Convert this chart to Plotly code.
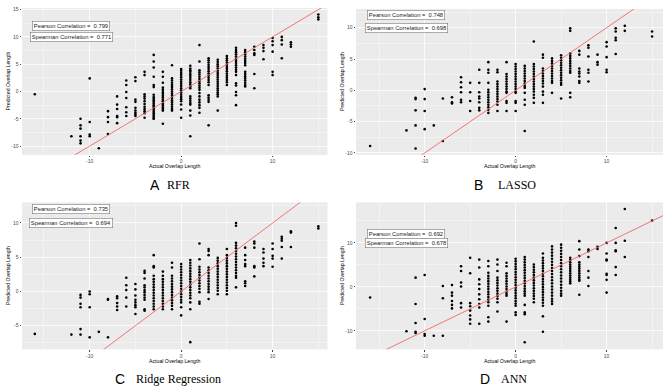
import plotly.graph_objects as go

# ---------------- data (actual overlap length -> predicted values) ----------------
rfr_points = {
    -16: [-0.5],
    -12: [-8.2],
    -11: [-5.0, -6.2, -6.8, -8.2, -9.0, -9.5],
    -10: [2.4, -5.6, -7.9, -8.2],
    -9: [-10.4],
    -8: [-3.6, -4.7, -5.6, -7.8],
    -7: [-0.9, -2.4, -3.2, -4.5, -4.7, -5.8],
    -6: [2.0, 1.2, -0.1, -1.2, -2.9, -3.8, -4.5],
    -5: [2.6, 1.9, -1.5, -1.9, -3.0, -3.5, -3.9, -4.2, -4.5],
    -4: [3.6, 3.0, -0.5, -0.9, -1.3, -1.8, -2.3, -2.8, -3.2, -3.6, -4.0, -4.8],
    -3: [6.7, 5.5, 4.4, 2.7, 1.2, 0.8, -0.6, -1.0, -1.3, -1.6, -1.9, -2.2, -2.5, -2.8,
         -3.1, -3.4, -3.7, -4.0, -4.3, -4.6, -4.9, -5.0],
    -2: [3.6, 2.7, 1.6, 0.7, 0.3, -0.1, -0.4, -0.8, -1.1, -1.5, -1.8, -2.2, -2.5, -2.9,
         -3.2, -3.5, -5.9],
    -1: [4.8, 2.4, 2.0, 1.6, 1.2, 0.8, 0.4, 0.0, -0.4, -0.8, -1.2, -1.6, -2.0, -2.4,
         -2.8, -3.2, -3.5],
    0: [4.1, 3.8, 3.4, 3.0, 2.6, 2.2, 1.8, 1.4, 1.0, 0.6, 0.2, -0.2, -0.6, -1.0, -1.4,
        -1.8, -2.4, -3.3, -4.8],
    1: [4.7, 4.2, 3.9, 3.6, 3.2, 2.9, 2.5, 2.1, 1.7, 1.3, 0.9, 0.6, -0.9, -1.3, -1.7,
        -2.1, -2.4, -3.5, -4.4, -8.2],
    2: [8.5, 5.5, 3.9, 3.5, 3.1, 2.7, 2.3, 1.9, 1.5, 1.1, 0.7, 0.3, -0.3, -0.9, -1.5,
        -2.0, -2.5, -3.0, -3.9],
    3: [6.1, 5.7, 5.3, 4.9, 4.5, 4.1, 3.7, 3.3, 2.9, 2.5, 2.1, 1.7, 1.2, -0.7, -1.1,
        -1.5, -1.9, -6.2],
    4: [5.8, 5.4, 5.0, 4.6, 4.2, 3.8, 3.4, 3.0, 2.6, 2.2, 1.8, 1.4, 1.0, 0.6, 0.2,
        -0.2, -0.5, -0.9, -3.5],
    5: [6.5, 6.1, 5.7, 5.3, 4.9, 4.5, 4.1, 3.7, 3.3, 2.9, 2.5, 2.1, 1.7, 1.2],
    6: [8.0, 7.6, 7.2, 6.8, 6.4, 6.0, 5.6, 5.2, 4.8, 4.4, 4.0, 3.6, 3.0, 1.5, 1.1,
        -0.1, -0.7, -2.5],
    7: [7.6, 7.2, 6.8, 6.4, 6.0, 5.6, 5.2, 4.8, 3.6, 3.2, 2.8, 2.4, 2.0, 1.6, 1.2, 0.9],
    8: [8.2, 7.6, 7.0, 6.7, 3.2, 0.6],
    9: [8.5, 8.0, 7.4, 5.9],
    10: [9.8, 9.2, 8.5, 7.3, 3.6, 3.0],
    11: [10.0, 9.4, 8.6, 6.1],
    12: [9.0, 8.6, 8.2],
    15: [14.1, 13.6, 13.2],
}

lasso_points = {
    -16: [-8.9],
    -12: [-6.4],
    -11: [-1.2, -1.4, -3.2, -5.6, -9.3],
    -10: [0.2, -1.4, -3.3, -6.2],
    -9: [-5.6],
    -8: [-1.3, -8.1],
    -7: [-1.1, -1.9, -2.1],
    -6: [2.1, 1.3, 0.5, -0.3, -1.5, -1.9],
    -5: [1.2, -0.3, -1.7, -3.3],
    -4: [3.3, 1.2, -0.3, -1.0, -1.3, -1.9, -2.8, -3.2],
    -3: [4.5, 3.3, 2.8, 1.2, 0.1, -0.3, -0.7, -1.1, -1.5, -1.9, -2.3, -2.7, -3.1, -3.6],
    -2: [3.3, 2.9, 1.4, 1.0, 0.6, 0.2, -0.2, -0.6, -1.0, -1.4, -1.8, -2.3, -3.3],
    -1: [4.5, 2.6, 2.2, 1.8, 1.4, 1.0, 0.6, 0.2, -0.2, -0.4, -1.7, -2.0, -3.3],
    0: [4.2, 3.8, 3.4, 3.0, 2.6, 2.2, 1.8, 1.4, 1.0, 0.6, 0.2, -0.2, -0.4, -1.7, -2.0, -3.3],
    1: [3.9, 3.5, 3.1, 2.7, 2.3, 1.9, 1.5, 1.1, 0.7, 0.4, -0.4, -1.5, -2.3, -6.5],
    2: [7.8, 4.2, 3.8, 3.4, 3.0, 2.6, 2.2, 1.8, 1.4, 1.0, 0.6, 0.2, -0.2, -0.7, -1.2, -2.0],
    3: [5.7, 5.2, 3.5, 3.1, 2.7, 2.3, 1.9, 1.5, 1.1, 0.6, -0.2, -0.7, -2.0],
    4: [5.1, 4.7, 4.3, 3.9, 3.5, 3.1, 2.7, 2.3, 1.9, 1.5, 1.2, -0.4],
    5: [5.6, 5.2, 4.8, 4.4, 4.0, 3.6, 3.2, 2.8, 2.4, 2.0, 1.6, 1.2, 0.9, -1.3],
    6: [9.9, 9.5, 5.9, 5.5, 5.1, 4.7, 4.3, 3.9, 3.5, 3.1, 2.8, -0.4, -1.1],
    7: [6.3, 5.7, 3.5, 3.0, 2.7, 2.2, 1.5, 1.2],
    8: [7.2, 6.8, 5.4, 3.3, 2.8, 1.4],
    9: [5.7, 4.5, 4.1],
    10: [7.7, 7.0, 5.3, 3.3, 2.9],
    11: [9.9, 9.4, 8.4, 8.0, 5.8],
    12: [10.3, 9.5],
    15: [9.4, 8.6],
}

ridge_points = {
    -16: [-6.2],
    -12: [-6.3],
    -11: [-0.5, -0.9, -1.8, -2.3, -5.5, -6.3],
    -10: [0.0, -0.4, -2.3, -6.7],
    -9: [-5.9],
    -8: [-1.1, -1.2, -6.7],
    -7: [-0.7, -1.0, -1.7, -2.2, -2.7],
    -6: [2.0, 0.9, 0.2, -0.9, -2.2],
    -5: [1.1, 0.3, -0.6, -1.2, -1.6, -2.0, -2.3, -3.3],
    -4: [3.0, 2.7, 1.9, 0.9, 0.6, 0.2, -0.1, -0.5, -0.9, -1.2, -2.6, -2.8],
    -3: [5.3, 3.7, 3.5, 2.3, 1.8, 1.4, 1.0, 0.6, 0.2, -0.2, -0.6, -1.0, -1.4, -1.8,
         -2.2, -2.6],
    -2: [2.9, 2.3, 1.8, 1.4, 1.0, 0.6, 0.2, -0.2, -0.6, -1.0, -1.4, -1.8, -2.2, -2.6],
    -1: [4.2, 3.5, 2.3, 1.9, 1.5, 1.1, 0.7, 0.3, -0.1, -0.5, -0.9, -1.3, -1.7, -2.1, -2.6],
    0: [4.0, 3.6, 3.2, 2.8, 2.4, 2.0, 1.6, 1.2, 0.8, 0.4, 0.0, -0.4, -0.8, -1.2, -1.6,
        -2.3, -3.5],
    1: [4.6, 4.2, 3.8, 3.4, 3.0, 2.6, 2.2, 1.8, 1.4, 1.0, 0.6, 0.2, -0.2, -0.6, -1.0,
        -1.6, -2.6, -7.4],
    2: [7.0, 4.7, 3.6, 3.2, 2.8, 2.4, 2.0, 1.6, 1.2, 0.8, 0.4, -0.1, -1.5, -1.8],
    3: [6.2, 5.9, 5.3, 3.5, 3.1, 2.7, 2.3, 1.9, 1.5, 1.1, 0.7, 0.3, -0.1, -1.1],
    4: [4.9, 4.5, 4.1, 3.7, 3.3, 2.9, 2.5, 2.1, 1.7, 1.3, 0.9, 0.5, 0.1, -0.4],
    5: [6.2, 5.3, 4.9, 4.5, 4.1, 3.7, 3.3, 2.9, 2.5, 2.1, 1.7, 1.3, 0.9, 0.5, 0.1, -0.4],
    6: [10.0, 9.6, 7.1, 6.7, 6.3, 5.9, 5.5, 5.1, 4.7, 4.3, 3.9, 3.5, 3.1, 2.7, 2.3,
        2.0, 0.6],
    7: [6.4, 5.3, 4.6, 4.0, 3.7, 1.5, 1.2, 0.8],
    8: [7.3, 7.0, 6.4, 3.7, 3.5, 2.2],
    9: [6.2, 5.7, 4.8, 4.2, 3.7],
    10: [7.0, 6.2, 5.2, 4.8, 3.6],
    11: [8.0, 7.7, 7.4, 6.5, 4.8],
    12: [8.8, 8.6, 6.5],
    15: [9.5, 9.2],
}

ann_points = {
    -16: [-2.4],
    -12: [-10.1],
    -11: [2.1, -3.9, -8.2, -10.2, -10.5],
    -10: [2.7, -7.3, -10.7, -11.1],
    -9: [-11.1],
    -8: [0.2, -2.6, -11.1],
    -7: [0.4, -1.3, -2.0, -3.2, -4.1, -4.9],
    -6: [4.7, 3.6, 1.0, 0.1, -3.7, -4.7],
    -5: [6.6, 3.1, -3.7, -4.4, -5.4, -6.5, -7.4, -8.4],
    -4: [6.2, 4.4, 1.7, 0.6, -0.5, -1.7, -2.8, -3.9, -4.7, -8.4],
    -3: [5.9, 4.7, 3.2, 2.5, 1.9, 1.3, 0.7, 0.1, -0.5, -1.1, -1.7, -2.3, -2.9, -3.5,
         -4.3, -6.9, -7.9],
    -2: [6.2, 5.1, 3.6, 2.1, 1.5, 0.9, 0.3, -0.3, -0.9, -1.5, -2.1, -2.7, -3.5, -5.6],
    -1: [5.5, 4.7, 3.1, 2.5, 1.9, 1.3, 0.7, 0.1, -0.5, -1.1, -1.6, -2.0, -7.9],
    0: [6.4, 5.8, 5.2, 4.6, 4.0, 3.4, 2.8, 2.2, 1.6, 1.0, 0.4, -0.2, -0.8, -1.4, -2.0,
        -2.6, -3.2, -3.8, -4.3, -5.8, -6.4],
    1: [6.8, 6.2, 5.6, 5.0, 4.4, 3.8, 3.2, 2.6, 2.0, 1.4, 0.8, 0.2, -0.4, -1.0, -1.5,
        -2.0, -4.1, -5.8, -6.2, -12.6],
    2: [5.1, 4.5, 3.9, 3.3, 2.7, 2.1, 1.5, 0.9, 0.3, -0.3, -0.9, -1.5, -2.1, -2.7, -3.5],
    3: [7.6, 6.6, 6.0, 5.4, 4.8, 4.2, 3.6, 3.0, 2.4, 1.8, 1.2, 0.6, 0.0, -0.6, -1.2,
        -1.8, -2.4, -3.0, -3.6, -4.3, -6.7, -10.2],
    4: [9.2, 8.5, 7.8, 7.1, 6.4, 5.7, 5.0, 4.3, 3.6, 2.9, 2.2, 1.5, 0.8, 0.1, -0.6,
        -1.3, -2.0, -2.7, -3.3, -3.9],
    5: [9.6, 8.9, 8.2, 7.5, 6.8, 6.1, 5.4, 4.7, 4.0, 3.3, 2.6, 1.9, 1.2, 0.5, -0.2,
        -0.9, -1.5, -2.0],
    6: [6.6, 6.1, 5.6, 5.1, 4.6, 4.1, 3.6, 3.1, 2.6, 2.1, 1.6, 1.2, 0.8],
    7: [10.4, 8.5, 7.0, 5.6, 5.1, 4.6, 4.1, 3.6, 3.1, 2.6, 2.1, 1.6, 1.4, -1.8],
    8: [8.5, 8.1, 6.8, 3.6, 2.1, 0.2],
    9: [9.1, 8.6],
    10: [10.0, 7.6, 6.2, 6.0, 3.0, 2.7, 1.6, -1.3],
    11: [13.4, 10.0, 8.3, 8.1, 4.5, 2.7],
    12: [17.7, 10.5, 6.8],
    15: [15.1],
}

model_names = ["RFR", "LASSO", "Ridge Regression", "ANN"]
panel_letters = ["A", "B", "C", "D"]
pearson = ["0.799", "0.748", "0.735", "0.692"]
spearman = ["0.771", "0.698", "0.694", "0.678"]
all_points = [rfr_points, lasso_points, ridge_points, ann_points]

x_ticks = [-10, 0, 10]
x_tick_text = ["-10", "0", "10"]
y_ticks_5 = [-10, -5, 0, 5, 10, 15]
y_tick_text_5 = ["-10", "-5", "0", "5", "10", "15"]
y_ticks_10 = [-10, 0, 10]
y_tick_text_10 = ["-10", "0", "10"]

# ---------------- layout geometry (pixels in a 663x392 canvas) ----------------
W, H = 663, 392
boxes = [  # x0, x1, y0(top), y1(bottom)
    (22, 327.5, 6, 154),
    (356, 663, 7, 154),
    (22, 327.5, 202, 350),
    (356, 663, 202, 350),
]
x_ranges = [(-17.4, 16.0), (-17.55, 16.2), (-17.4, 16.0), (-17.55, 16.2)]
y_ranges = [(-11.6, 15.3), (-10.3, 13.0), (-8.45, 13.0), (-14.2, 19.2)]
y_steps = [5, 5, 5, 10]
letter_right_px = [162, 485, 127, 492]
name_left_px = [164.5, 495.5, 133.5, 498.5]
caption_y_px = [184, 184, 380, 380]

FONT = "Liberation Sans, Arial, sans-serif"
SERIF = "Liberation Serif, Times New Roman, serif"
fig = go.Figure()
annotations = []

for i in range(4):
    pts = all_points[i]
    xs, ys = [], []
    for k in sorted(pts):
        for v in pts[k]:
            xs.append(k)
            ys.append(v)
    sfx = "" if i == 0 else str(i + 1)
    xa, ya = "x" + sfx, "y" + sfx
    xr, yr = x_ranges[i], y_ranges[i]
    fig.add_trace(go.Scatter(x=xs, y=ys, mode="markers",
                             marker=dict(color="black", size=2.6),
                             xaxis=xa, yaxis=ya, showlegend=False))
    # identity line y = x spanning the axis range
    lo, hi = min(xr[0], yr[0]), max(xr[1], yr[1])
    fig.add_trace(go.Scatter(x=[lo, hi], y=[lo, hi], mode="lines",
                             line=dict(color="#F26868", width=0.9),
                             xaxis=xa, yaxis=ya, hoverinfo="skip", showlegend=False))

    x0, x1, t, b = boxes[i]
    dom_x = [x0 / W, x1 / W]
    dom_y = [1 - b / H, 1 - t / H]
    if y_steps[i] == 5:
        yt, ytt = y_ticks_5, y_tick_text_5
    else:
        yt, ytt = y_ticks_10, y_tick_text_10
    xaxis = dict(domain=dom_x, range=list(xr), anchor=ya, showgrid=True,
                 gridcolor="#FBFBFB", gridwidth=1, zeroline=False,
                 tickvals=x_ticks, ticktext=x_tick_text, ticks="outside",
                 ticklen=1.5, tickwidth=0.5, tickcolor="#444",
                 tickfont=dict(size=5, color="#4D4D4D", family=FONT),
                 minor=dict(showgrid=True, gridcolor="#F3F3F3", gridwidth=0.6,
                            tickvals=[-15, -5, 5, 15]),
                 showline=False, fixedrange=True)
    minor_y = [v + y_steps[i] / 2 for v in range(-20, 25, y_steps[i])]
    yaxis = dict(domain=dom_y, range=list(yr), anchor=xa, showgrid=True,
                 gridcolor="#FBFBFB", gridwidth=1, zeroline=False,
                 tickvals=yt, ticktext=ytt, ticks="outside",
                 ticklen=1.5, tickwidth=0.5, tickcolor="#444",
                 tickfont=dict(size=5, color="#4D4D4D", family=FONT),
                 minor=dict(showgrid=True, gridcolor="#F3F3F3", gridwidth=0.6,
                            tickvals=minor_y),
                 showline=False, fixedrange=True)
    fig.layout["xaxis" + sfx] = xaxis
    fig.layout["yaxis" + sfx] = yaxis

    # correlation labels
    for yy, txt in [(12, "Pearson Correlation =  " + pearson[i]),
                    (10, "Spearman Correlation =  " + spearman[i])]:
        annotations.append(dict(x=-12, y=yy, xref=xa, yref=ya, text=txt,
                                showarrow=False, font=dict(size=5.8, color="#222", family=FONT),
                                bgcolor="white", bordercolor="#777", borderwidth=0.6,
                                borderpad=1.2, xanchor="center", yanchor="middle"))
    # axis titles
    cx = (x0 + x1) / 2
    annotations.append(dict(x=cx / W, y=1 - (b + 11.5) / H, xref="paper", yref="paper",
                            text="Actual Overlap Length", showarrow=False,
                            font=dict(size=5.2, color="black", family=FONT),
                            xanchor="center", yanchor="middle"))
    annotations.append(dict(x=(x0 - 14) / W, y=1 - ((t + b) / 2) / H, xref="paper", yref="paper",
                            text="Predicted Overlap Length", showarrow=False, textangle=-90,
                            font=dict(size=5.2, color="black", family=FONT),
                            xanchor="center", yanchor="middle"))
    # panel caption: sans letter + serif model name
    cy = 1 - caption_y_px[i] / H
    annotations.append(dict(x=letter_right_px[i] / W, y=cy, xref="paper", yref="paper",
                            text=panel_letters[i], showarrow=False,
                            font=dict(size=14, color="black", family=FONT),
                            xanchor="right", yanchor="middle"))
    annotations.append(dict(x=name_left_px[i] / W, y=cy, xref="paper", yref="paper",
                            text=model_names[i], showarrow=False,
                            font=dict(size=12, color="black", family=SERIF),
                            xanchor="left", yanchor="middle"))

fig.update_layout(width=W, height=H, margin=dict(l=0, r=0, t=0, b=0),
                  paper_bgcolor="white", plot_bgcolor="#EBEBEB",
                  annotations=annotations, showlegend=False)
fig.write_html("out.html", config={"displayModeBar": False},
               post_script="document.body.style.margin='0px';")
